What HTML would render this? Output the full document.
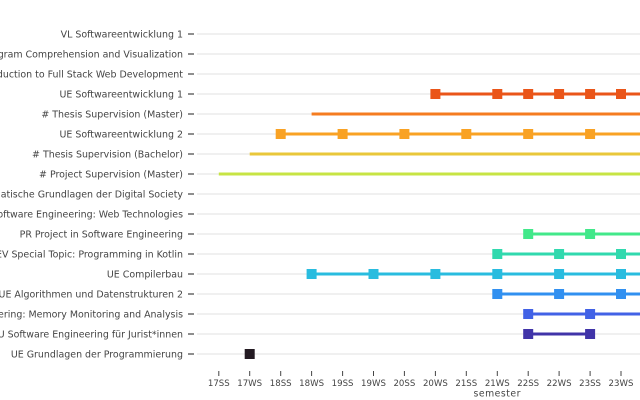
<!DOCTYPE html>
<html><head><meta charset="utf-8"><style>
html,body{margin:0;padding:0;background:#fff;}
svg{display:block;}
text{font-family:"DejaVu Sans","Liberation Sans",sans-serif;fill:#444;}
</style></head><body>
<svg width="640" height="400" viewBox="0 0 640 400" xmlns="http://www.w3.org/2000/svg">
<rect width="640" height="400" fill="#fff"/>
<g stroke="#ececec" stroke-width="1.5">
<line x1="197" x2="640" y1="34" y2="34"/><line x1="197" x2="640" y1="54" y2="54"/><line x1="197" x2="640" y1="74" y2="74"/><line x1="197" x2="640" y1="94" y2="94"/><line x1="197" x2="640" y1="114" y2="114"/><line x1="197" x2="640" y1="134" y2="134"/><line x1="197" x2="640" y1="154" y2="154"/><line x1="197" x2="640" y1="174" y2="174"/><line x1="197" x2="640" y1="194" y2="194"/><line x1="197" x2="640" y1="214" y2="214"/><line x1="197" x2="640" y1="234" y2="234"/><line x1="197" x2="640" y1="254" y2="254"/><line x1="197" x2="640" y1="274" y2="274"/><line x1="197" x2="640" y1="294" y2="294"/><line x1="197" x2="640" y1="314" y2="314"/><line x1="197" x2="640" y1="334" y2="334"/><line x1="197" x2="640" y1="354" y2="354"/>
</g>
<g stroke="#444" stroke-width="1.2">
<line x1="188" x2="194" y1="34" y2="34"/><line x1="188" x2="194" y1="54" y2="54"/><line x1="188" x2="194" y1="74" y2="74"/><line x1="188" x2="194" y1="94" y2="94"/><line x1="188" x2="194" y1="114" y2="114"/><line x1="188" x2="194" y1="134" y2="134"/><line x1="188" x2="194" y1="154" y2="154"/><line x1="188" x2="194" y1="174" y2="174"/><line x1="188" x2="194" y1="194" y2="194"/><line x1="188" x2="194" y1="214" y2="214"/><line x1="188" x2="194" y1="234" y2="234"/><line x1="188" x2="194" y1="254" y2="254"/><line x1="188" x2="194" y1="274" y2="274"/><line x1="188" x2="194" y1="294" y2="294"/><line x1="188" x2="194" y1="314" y2="314"/><line x1="188" x2="194" y1="334" y2="334"/><line x1="188" x2="194" y1="354" y2="354"/>
</g>
<g font-size="9.45" text-anchor="end">
<text x="183" y="37.4">VL Softwareentwicklung 1</text>
<text x="183" y="57.4">VU Program Comprehension and Visualization</text>
<text x="183" y="77.4">VU Introduction to Full Stack Web Development</text>
<text x="183" y="97.4">UE Softwareentwicklung 1</text>
<text x="183" y="117.4"># Thesis Supervision (Master)</text>
<text x="183" y="137.4">UE Softwareentwicklung 2</text>
<text x="183" y="157.4"># Thesis Supervision (Bachelor)</text>
<text x="183" y="177.4"># Project Supervision (Master)</text>
<text x="183" y="197.4">VU Mathematische Grundlagen der Digital Society</text>
<text x="183" y="217.4">VU Software Engineering: Web Technologies</text>
<text x="183" y="237.4">PR Project in Software Engineering</text>
<text x="183" y="257.4">SEV Special Topic: Programming in Kotlin</text>
<text x="183" y="277.4">UE Compilerbau</text>
<text x="183" y="297.4">UE Algorithmen und Datenstrukturen 2</text>
<text x="183" y="317.4">SE Software Engineering: Memory Monitoring and Analysis</text>
<text x="183" y="337.4">VU Software Engineering für Jurist*innen</text>
<text x="183" y="357.4">UE Grundlagen der Programmierung</text>
</g>
<g stroke-width="3" fill="none">
<line x1="435.4" x2="640" y1="94" y2="94" stroke="#ea5519"/>
<line x1="311.6" x2="640" y1="114" y2="114" stroke="#f57c20"/>
<line x1="280.7" x2="640" y1="134" y2="134" stroke="#f9a224"/>
<line x1="249.7" x2="640" y1="154" y2="154" stroke="#e9c73a"/>
<line x1="218.8" x2="640" y1="174" y2="174" stroke="#c7e444"/>
<line x1="528.2" x2="640" y1="234" y2="234" stroke="#42e88a"/>
<line x1="497.3" x2="640" y1="254" y2="254" stroke="#31d9ae"/>
<line x1="311.6" x2="640" y1="274" y2="274" stroke="#29bcdf"/>
<line x1="497.3" x2="640" y1="294" y2="294" stroke="#3190f0"/>
<line x1="528.2" x2="640" y1="314" y2="314" stroke="#4262e6"/>
<line x1="528.2" x2="590.1" y1="334" y2="334" stroke="#4034a8"/>
</g>
<g fill="#ea5519">
<rect x="430.4" y="89" width="10" height="10"/><rect x="492.3" y="89" width="10" height="10"/><rect x="523.2" y="89" width="10" height="10"/><rect x="554.1" y="89" width="10" height="10"/><rect x="585.1" y="89" width="10" height="10"/><rect x="616" y="89" width="10" height="10"/>
</g>
<g fill="#f9a224">
<rect x="275.7" y="129" width="10" height="10"/><rect x="337.6" y="129" width="10" height="10"/><rect x="399.4" y="129" width="10" height="10"/><rect x="461.3" y="129" width="10" height="10"/><rect x="523.2" y="129" width="10" height="10"/><rect x="585.1" y="129" width="10" height="10"/>
</g>
<g fill="#42e88a">
<rect x="523.2" y="229" width="10" height="10"/><rect x="585.1" y="229" width="10" height="10"/>
</g>
<g fill="#31d9ae">
<rect x="492.3" y="249" width="10" height="10"/><rect x="554.1" y="249" width="10" height="10"/><rect x="616" y="249" width="10" height="10"/>
</g>
<g fill="#29bcdf">
<rect x="306.6" y="269" width="10" height="10"/><rect x="368.5" y="269" width="10" height="10"/><rect x="430.4" y="269" width="10" height="10"/><rect x="492.3" y="269" width="10" height="10"/><rect x="554.1" y="269" width="10" height="10"/><rect x="616" y="269" width="10" height="10"/>
</g>
<g fill="#3190f0">
<rect x="492.3" y="289" width="10" height="10"/><rect x="554.1" y="289" width="10" height="10"/><rect x="616" y="289" width="10" height="10"/>
</g>
<g fill="#4262e6">
<rect x="523.2" y="309" width="10" height="10"/><rect x="585.1" y="309" width="10" height="10"/>
</g>
<g fill="#4034a8">
<rect x="523.2" y="329" width="10" height="10"/><rect x="585.1" y="329" width="10" height="10"/>
</g>
<rect x="244.7" y="349" width="10" height="10" fill="#231a22"/>
<g stroke="#444" stroke-width="1">
<line x1="218.8" x2="218.8" y1="371" y2="376"/><line x1="249.7" x2="249.7" y1="371" y2="376"/><line x1="280.7" x2="280.7" y1="371" y2="376"/><line x1="311.6" x2="311.6" y1="371" y2="376"/><line x1="342.6" x2="342.6" y1="371" y2="376"/><line x1="373.5" x2="373.5" y1="371" y2="376"/><line x1="404.4" x2="404.4" y1="371" y2="376"/><line x1="435.4" x2="435.4" y1="371" y2="376"/><line x1="466.3" x2="466.3" y1="371" y2="376"/><line x1="497.3" x2="497.3" y1="371" y2="376"/><line x1="528.2" x2="528.2" y1="371" y2="376"/><line x1="559.1" x2="559.1" y1="371" y2="376"/><line x1="590.1" x2="590.1" y1="371" y2="376"/><line x1="621" x2="621" y1="371" y2="376"/>
</g>
<g font-size="8.6" text-anchor="middle">
<text x="218.8" y="386">17SS</text><text x="249.7" y="386">17WS</text><text x="280.7" y="386">18SS</text><text x="311.6" y="386">18WS</text><text x="342.6" y="386">19SS</text><text x="373.5" y="386">19WS</text><text x="404.4" y="386">20SS</text><text x="435.4" y="386">20WS</text><text x="466.3" y="386">21SS</text><text x="497.3" y="386">21WS</text><text x="528.2" y="386">22SS</text><text x="559.1" y="386">22WS</text><text x="590.1" y="386">23SS</text><text x="621" y="386">23WS</text>
</g>
<text x="497" y="396.5" font-size="9.3" text-anchor="middle" textLength="47" lengthAdjust="spacing">semester</text>
</svg>
</body></html>
